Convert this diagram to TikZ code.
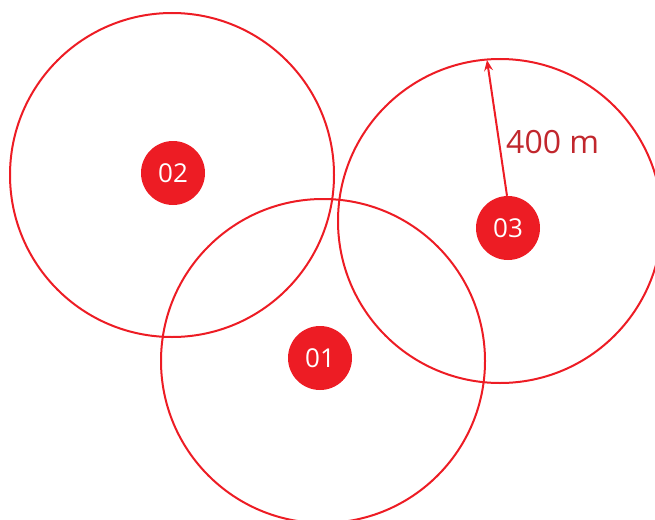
\documentclass[tikz,border=0pt]{standalone}
\usepackage{fontspec}
\setmainfont{Open Sans}
\usetikzlibrary{arrows.meta}
\definecolor{ring}{HTML}{ED1C24}
\definecolor{lbl}{HTML}{C1272D}
\begin{document}
\begin{tikzpicture}[x=1pt,y=-1pt,
  zone/.style={draw=ring,line width=2pt},
  site/.style={circle,fill=ring,minimum size=64pt,inner sep=0pt,text=white,font=\fontsize{26}{30}\selectfont},
  radius arrow/.style={draw=ring,line width=2pt,-{Stealth[length=11pt,width=9pt,inset=4pt]}}]
\useasboundingbox (0,0) rectangle (655,519);
\clip (0,0) rectangle (655,519);
\draw[zone] (172,175) circle[radius=162];
\draw[zone] (323,361) circle[radius=162];
\draw[zone] (500,221) circle[radius=162];
\coordinate (tip) at (487,60);
\node[site] (s03) at (508,228) {03};
\draw[radius arrow] (s03.north) ++(-1,0) -- (tip);
\node[site] (s02) at (173,173) {02};
\node[site] (s01) at (320,358) {01};
\node[text=lbl,font=\fontsize{32}{36}\selectfont,anchor=base west,inner sep=0pt] (lab) at (506,153) {400 m};
\end{tikzpicture}
\end{document}
